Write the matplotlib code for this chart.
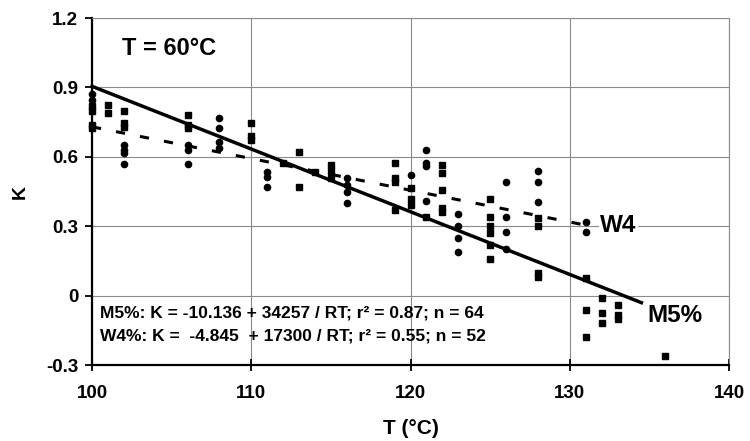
import matplotlib.pyplot as plt

plt.rcParams['font.family'] = ['Liberation Sans', 'DejaVu Sans']

# W4 samples (circles)
w4_temp = [100, 100,
           102, 102, 102, 102,
           106, 106, 106,
           108, 108, 108, 108,
           111, 111, 111,
           116, 116, 116, 116,
           120,
           121, 121, 121, 121,
           123, 123, 123, 123,
           126, 126, 126, 126,
           128, 128, 128,
           131, 131]
w4_k = [0.87, 0.845,
        0.65, 0.63, 0.615, 0.57,
        0.65, 0.63, 0.57,
        0.77, 0.725, 0.665, 0.64,
        0.535, 0.515, 0.47,
        0.51, 0.48, 0.45, 0.40,
        0.52,
        0.63, 0.575, 0.56, 0.41,
        0.355, 0.30, 0.25, 0.19,
        0.49, 0.34, 0.275, 0.20,
        0.54, 0.49, 0.405,
        0.32, 0.275]

# M5% samples (squares)
m5_temp = [100, 100, 100, 100,
           101, 101,
           102, 102, 102,
           106, 106, 106,
           110, 110, 110,
           112,
           113, 113,
           114,
           115, 115, 115,
           119, 119, 119, 119,
           120, 120, 120,
           121,
           122, 122, 122, 122, 122,
           125, 125, 125, 125, 125, 125,
           128, 128, 128, 128,
           131, 131, 131,
           132, 132, 132,
           133, 133, 133,
           136]
m5_k = [0.82, 0.80, 0.74, 0.725,
        0.825, 0.79,
        0.80, 0.745, 0.73,
        0.78, 0.74, 0.725,
        0.745, 0.69, 0.675,
        0.575,
        0.62, 0.47,
        0.535,
        0.565, 0.54, 0.51,
        0.575, 0.51, 0.49, 0.37,
        0.465, 0.42, 0.39,
        0.34,
        0.565, 0.53, 0.455, 0.38, 0.36,
        0.42, 0.34, 0.30, 0.27, 0.22, 0.16,
        0.335, 0.30, 0.10, 0.08,
        0.075, -0.06, -0.18,
        -0.01, -0.075, -0.12,
        -0.04, -0.085, -0.10,
        -0.26]

# regression lines (end points)
m5_fit_t = [100, 134.5]
m5_fit_k = [0.905, -0.03]
w4_fit_t = [100, 131]
w4_fit_k = [0.73, 0.305]

x_ticks = [100, 110, 120, 130, 140]
y_ticks = [-0.3, 0, 0.3, 0.6, 0.9, 1.2]
y_labels = ['-0.3', '0', '0.3', '0.6', '0.9', '1.2']

fig = plt.figure(figsize=(7.5, 4.41), dpi=100)
ax = fig.add_axes([0.1227, 0.172, 0.8493, 0.787])

ax.plot(m5_fit_t, m5_fit_k, color='black', linewidth=2.5, zorder=3, clip_on=False)
ax.plot(w4_fit_t, w4_fit_k, color='black', linewidth=2.2, dashes=(3, 5), zorder=3)
ax.plot(m5_temp, m5_k, 's', color='black', markersize=4, linestyle='none', zorder=4, clip_on=False)
ax.plot(w4_temp, w4_k, 'o', color='black', markersize=4.5, linestyle='none', zorder=4, clip_on=False)

ax.set_xlim(100, 140)
ax.set_ylim(-0.3, 1.2)
ax.set_xticks(x_ticks)
ax.set_yticks(y_ticks)
ax.set_yticklabels(y_labels)
ax.grid(True, color='#8a8a8a', linewidth=0.8)
ax.set_axisbelow(True)

for s in ['top', 'right']:
    ax.spines[s].set_color('#8a8a8a')
    ax.spines[s].set_linewidth(0.8)
for s in ['left', 'bottom']:
    ax.spines[s].set_linewidth(1.6)

ax.tick_params(axis='x', direction='inout', length=9, width=1.3, pad=10)
ax.tick_params(axis='y', direction='out', length=5, width=1.3, pad=5)
for lbl in ax.get_xticklabels() + ax.get_yticklabels():
    lbl.set_fontweight('bold')
    lbl.set_fontsize(13.5)

ax.set_xlabel('T (°C)', fontsize=15, fontweight='bold', labelpad=12)
ax.set_ylabel('K', fontsize=14, fontweight='bold', labelpad=12)

ax.text(101.9, 1.07, 'T = 60°C', fontsize=17, fontweight='bold', va='center', ha='left')
ax.text(131.9, 0.305, 'W4', fontsize=17.5, fontweight='bold', va='center', ha='left',
        bbox=dict(facecolor='white', edgecolor='none', pad=1), zorder=5)
ax.text(134.85, -0.084, 'M5%', fontsize=17.5, fontweight='bold', va='center', ha='left',
        bbox=dict(facecolor='white', edgecolor='none', pad=1), zorder=5)
ax.text(100.5, -0.075, 'M5%: K = -10.136 + 34257 / RT; r² = 0.87; n = 64',
        fontsize=12.5, fontweight='bold', va='center', ha='left', zorder=5)
ax.text(100.5, -0.175, 'W4%: K =  -4.845  + 17300 / RT; r² = 0.55; n = 52',
        fontsize=12.5, fontweight='bold', va='center', ha='left', zorder=5)

fig.savefig('out.png', dpi=100)
